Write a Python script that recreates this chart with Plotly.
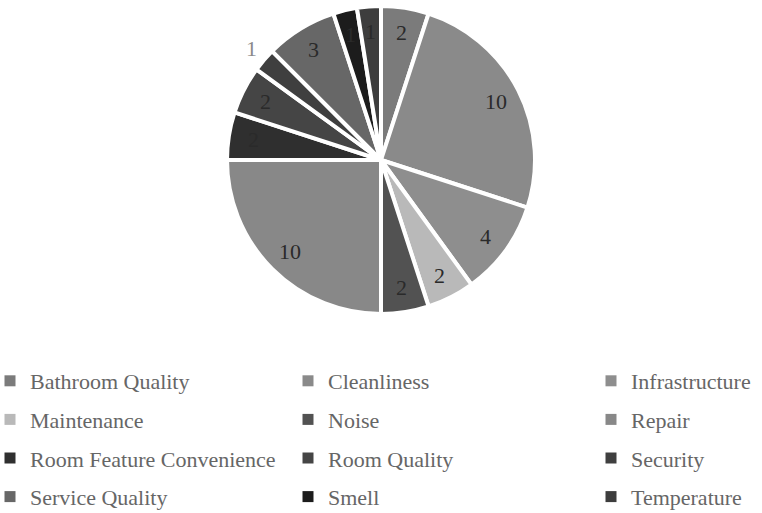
import math
import plotly.graph_objects as go

# Complaint categories and their counts
categories = [
    "Bathroom Quality", "Cleanliness", "Infrastructure",
    "Maintenance", "Noise", "Repair",
    "Room Feature Convenience", "Room Quality", "Security",
    "Service Quality", "Smell", "Temperature",
]
counts = [2, 10, 4, 2, 2, 10, 2, 2, 1, 3, 1, 1]
colors = [
    "#7b7b7b", "#8a8a8a", "#8e8e8e",
    "#b9b9b9", "#525252", "#888888",
    "#2f2f2f", "#454545", "#3f3f3f",
    "#676767", "#1c1c1c", "#3d3d3d",
]
# slices whose count label sits outside the pie
outside_labels = ["Security"]

W, H = 762, 513
R_PX = 154
CX_PX, CY_PX = 381, 160
SERIF = "Liberation Serif"

dom_x = [0.0, 1.0]
dom_y = [1 - (CY_PX + R_PX) / H, 1 - (CY_PX - R_PX) / H]

fig = go.Figure()
fig.add_trace(go.Pie(
    labels=categories,
    values=counts,
    sort=False,
    direction="clockwise",
    rotation=0,
    marker=dict(colors=colors, line=dict(color="white", width=4)),
    textinfo="none",
    hoverinfo="label+value",
    showlegend=False,
    domain=dict(x=dom_x, y=dom_y),
))

# count labels placed along each slice's mid-angle
cx = (dom_x[0] + dom_x[1]) / 2
cy = (dom_y[0] + dom_y[1]) / 2
total = sum(counts)
cum = 0
for name, v in zip(categories, counts):
    mid = 2 * math.pi * (cum + v / 2) / total
    cum += v
    outside = name in outside_labels
    r = R_PX * (1.11 if outside else 0.84)
    fig.add_annotation(
        x=cx + r * math.sin(mid) / W,
        y=cy + r * math.cos(mid) / H,
        xref="paper", yref="paper",
        text=str(v), showarrow=False,
        xanchor="center", yanchor="middle",
        font=dict(family=SERIF, size=22, color="#8a8a8a" if outside else "#2a2a2a"),
    )

# legend entries: three columns, four rows
legend_ids = ["legend", "legend2", "legend3"]
for i, (name, c) in enumerate(zip(categories, colors)):
    fig.add_trace(go.Scatter(
        x=[None], y=[None], mode="markers",
        marker=dict(symbol="square", size=11, color=c),
        name=name, legendgroup=name,
        legend=legend_ids[i % 3],
        hoverinfo="skip",
    ))

legend_common = dict(
    orientation="v", yanchor="top", xanchor="left",
    y=1 - 360 / H, traceorder="grouped", tracegroupgap=7,
    font=dict(family=SERIF, size=22, color="#666666"),
    bgcolor="rgba(0,0,0,0)", borderwidth=0,
)
col_left_px = [-10, 288, 591]

fig.update_layout(
    width=W, height=H,
    margin=dict(l=0, r=0, t=0, b=0, autoexpand=False),
    paper_bgcolor="white", plot_bgcolor="white",
    xaxis=dict(visible=False), yaxis=dict(visible=False),
    legend=dict(x=col_left_px[0] / W, **legend_common),
    legend2=dict(x=col_left_px[1] / W, **legend_common),
    legend3=dict(x=col_left_px[2] / W, **legend_common),
)

fig.write_html("out.html")
